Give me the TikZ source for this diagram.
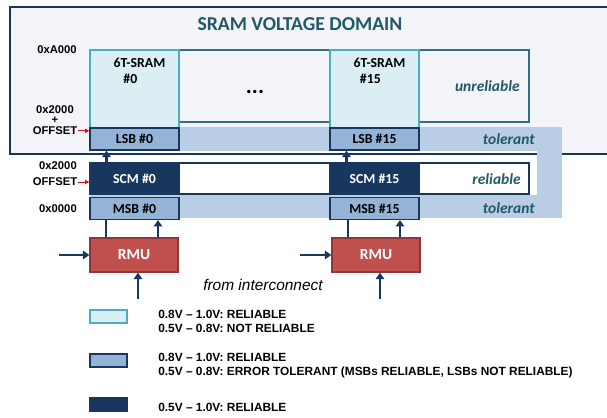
\documentclass[tikz,border=0pt]{standalone}
\usepackage{fontspec}
\setmainfont{Liberation Sans}
\newfontfamily\carlito{Carlito}
\usepackage{xcolor}
\definecolor{navy}{RGB}{23, 55, 94}
\definecolor{tealtext}{RGB}{33, 89, 104}
\definecolor{tealline}{RGB}{49, 112, 128}
\definecolor{sramfill}{RGB}{218, 238, 243}
\definecolor{sramline}{RGB}{75, 172, 198}
\definecolor{bitfill}{RGB}{149, 179, 215}
\definecolor{bandfill}{RGB}{185, 205, 229}
\definecolor{domfill}{RGB}{242, 244, 247}
\definecolor{rmufill}{RGB}{192, 80, 77}
\definecolor{rmuline}{RGB}{140, 56, 54}
\definecolor{offred}{RGB}{200, 20, 20}
\usetikzlibrary{arrows.meta,positioning,calc}

\begin{document}
\begin{tikzpicture}[
  sramcol/.style={draw=sramline, fill=sramfill, line width=1pt, minimum width=2.225cm, minimum height=2.5cm, inner sep=0pt},
  bitbox/.style={draw=navy, fill=bitfill, line width=1pt, minimum width=2.225cm, minimum height=0.55cm, inner sep=0pt, font=\carlito\bfseries\fontsize{9.8}{12}\selectfont, text=black},
  scmbox/.style={bitbox, fill=navy, minimum height=0.75cm, text=white},
  rmubox/.style={draw=rmuline, fill=rmufill, line width=1pt, minimum width=2.2cm, minimum height=0.85cm, inner sep=0pt, font=\carlito\bfseries\fontsize{11}{13}\selectfont, text=white},
  rowbox/.style={line width=1pt, minimum width=10.975cm, inner sep=0pt},
  sramlabel/.style={font=\carlito\bfseries\fontsize{9.8}{12}\selectfont, align=center, inner sep=0pt},
  tag/.style={font=\carlito\bfseries\itshape\fontsize{11}{13}\selectfont, text=tealtext, anchor=east, inner sep=0pt},
  addr/.style={font=\bfseries\fontsize{8}{9}\selectfont, inner sep=0.5pt},
  legbox/.style={line width=1.2pt, minimum width=0.925cm, minimum height=0.325cm, inner sep=0pt},
  legtext/.style={font=\bfseries\fontsize{8.45}{10}\selectfont, align=left, anchor=west, inner sep=0pt},
  arrow/.style={-{Triangle[length=4.5pt,width=6pt]}, line width=1.6pt, color=navy},
  wire/.style={line width=1.6pt, color=navy},
  offarrow/.style={-{Triangle[length=3pt,width=3pt]}, line width=0.6pt, color=offred}
]
\useasboundingbox (0,0) rectangle (15.175,-10.45);

% SRAM voltage domain and tolerant band
\fill[domfill] (0.25,-0.175) rectangle (15.3,-3.85);
\fill[bandfill] (2.25,-3.175) rectangle (14.05,-5.45);
\fill[white] (2.25,-3.775) rectangle (13.425,-4.875);
\draw[navy, line width=1.4pt] (15.3,-0.175) -- (0.25,-0.175) -- (0.25,-3.85) -- (13.425,-3.85);
\draw[navy, line width=1.4pt] (14.05,-3.85) -- (15.3,-3.85);

\node[font=\carlito\bfseries\fontsize{14}{16}\selectfont, text=tealtext] (title) at (7.5,-0.6) {SRAM VOLTAGE DOMAIN};

\node[rowbox, draw=tealline, minimum height=1.8cm] (unrel) at (7.7375,-2.15) {};
\node[rowbox, draw=navy, fill=white, minimum height=0.775cm] (rel) at (7.7375,-4.4625) {};

% memory columns
\node[sramcol] (sram0) at (3.3625,-2.5) {};
\node[sramcol] (sram15) at (9.3625,-2.5) {};
\node[sramlabel] (sramlbl0) at ([xshift=0.125cm,yshift=-0.54cm]sram0.north) {6T-SRAM\\\#0\rule{13pt}{0pt}};
\node[sramlabel] (sramlbl15) at ([xshift=0.125cm,yshift=-0.54cm]sram15.north) {6T-SRAM\\\#15\rule{13pt}{0pt}};
\node[font=\carlito\bfseries\fontsize{16}{18}\selectfont, inner sep=0pt] (dots) at (6.375,-2.3) {...};

\node[bitbox] (lsb0) at (3.3625,-3.475) {LSB \#0};
\node[bitbox] (lsb15) at (9.3625,-3.475) {LSB \#15};
\node[scmbox] (scm0) at (3.3625,-4.475) {SCM \#0};
\node[scmbox] (scm15) at (9.3625,-4.475) {SCM \#15};
\node[bitbox, below=0.05cm of scm0] (msb0) {MSB \#0};
\node[bitbox, below=0.05cm of scm15] (msb15) {MSB \#15};

\node[tag] (tagunrel) at (13.0,-2.15) {unreliable};
\node[tag] (tagtolup) at (13.375,-3.475) {tolerant};
\node[tag] (tagrel) at (13.025,-4.475) {reliable};
\node[tag] (tagtollo) at (13.375,-5.2) {tolerant};

% address labels
\node[addr] (addra) at (1.425,-1.25) {0xA000};
\node[addr] (addrup) at (1.375,-2.75) {0x2000};
\node[addr] (addrplus) at (1.375,-3.0) {+};
\node[addr] (offup) at (1.375,-3.27) {OFFSET};
\node[addr] (addrlo) at (1.45,-4.15) {0x2000};
\node[addr] (offlo) at (1.375,-4.55) {OFFSET};
\node[addr] (addrzero) at (1.45,-5.225) {0x0000};
\draw[offarrow] (offup.east) -- (offup.east -| lsb0.west);
\draw[offarrow] (offlo.east) -- (offlo.east -| scm0.west);

% RMUs
\node[rmubox] (rmu0) at (3.35,-6.375) {RMU};
\node[rmubox] (rmu15) at (9.4,-6.375) {RMU};
\coordinate (in0) at (1.475,-6.375);
\coordinate (in15) at (7.5,-6.375);
\coordinate (ic0) at (3.45,-7.475);
\coordinate (ic15) at (9.5,-7.475);
\node[font=\itshape\fontsize{11}{13}\selectfont, inner sep=0pt] (icnote) at (6.575,-7.125) {from interconnect};

\draw[arrow] (in0) -- (in0 -| rmu0.west);
\draw[arrow] (in15) -- (in15 -| rmu15.west);
\draw[arrow] (ic0) -- (ic0 |- rmu0.south);
\draw[arrow] (ic15) -- (ic15 |- rmu15.south);

% RMU to memories
\draw[wire] ([xshift=-0.7cm]rmu0.north) -- ([xshift=-0.7cm]rmu0.north |- msb0.south);
\draw[arrow] ([xshift=0.6cm]rmu0.north) -- ([xshift=0.6cm]rmu0.north |- msb0.south);
\draw[arrow] ([xshift=-0.7cm]scm0.north) -- ([xshift=-0.7cm]scm0.north |- lsb0.south);
\draw[wire] ([xshift=-0.7cm]rmu15.north) -- ([xshift=-0.7cm]rmu15.north |- msb15.south);
\draw[arrow] ([xshift=0.6cm]rmu15.north) -- ([xshift=0.6cm]rmu15.north |- msb15.south);
\draw[arrow] ([xshift=-0.7cm]scm15.north) -- ([xshift=-0.7cm]scm15.north |- lsb15.south);

% legend
\node[legbox, draw=sramline, fill=sramfill] (leg1) at (2.7125,-7.9125) {};
\node[legbox, draw=navy, fill=bitfill] (leg2) at (2.7125,-9.0125) {};
\node[legbox, draw=navy, fill=navy] (leg3) at (2.7125,-10.1125) {};
\node[legtext] (legtxt1) at (3.95,-8.025) {0.8V – 1.0V: RELIABLE\\0.5V – 0.8V: NOT RELIABLE};
\node[legtext] (legtxt2) at (3.95,-9.15) {0.8V – 1.0V: RELIABLE\\0.5V – 0.8V: ERROR TOLERANT (MSBs RELIABLE, LSBs NOT RELIABLE)};
\node[legtext] (legtxt3) at (3.95,-10.175) {0.5V – 1.0V: RELIABLE};
\end{tikzpicture}
\end{document}
